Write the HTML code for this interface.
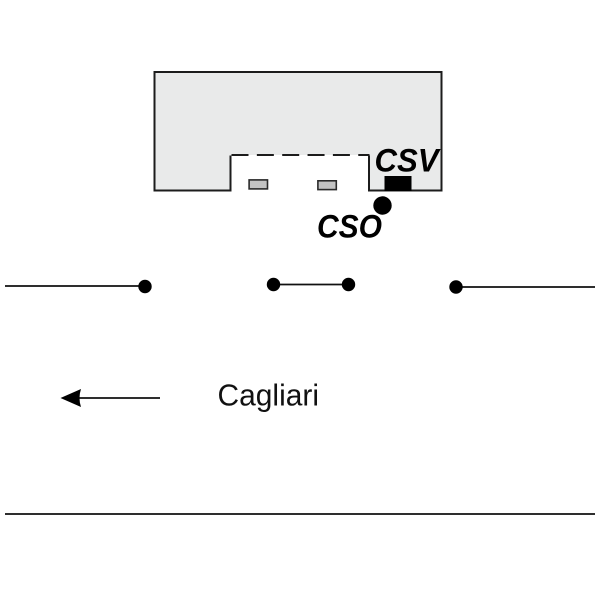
<!DOCTYPE html>
<html>
<head>
<meta charset="utf-8">
<style>
html,body{margin:0;padding:0;background:#fff;}
svg{display:block;}
</style>
</head>
<body>
<svg width="600" height="600" viewBox="0 0 600 600" xmlns="http://www.w3.org/2000/svg">
<rect width="600" height="600" fill="#fff"/>
<path d="M154.500 190.500 V72 H441.500 V190.500 H369 V155 H230.500 V190.500 Z" fill="#e9eaea" stroke="none"/>
<rect x="231" y="155.500" width="138" height="36" fill="#fff"/>
<path d="M230.500 155.500 V190.500 H154.500 V72 H441.500 V190.500 H369 V155.500" fill="none" stroke="#1c1c1c" stroke-width="2"/>
<path d="M231.500 155 H369.500" fill="none" stroke="#1c1c1c" stroke-width="2" stroke-dasharray="17 8.350"/>
<rect x="249.100" y="179.900" width="18.400" height="9" fill="#c3c3c3" stroke="#2a2a2a" stroke-width="1.600"/>
<rect x="317.900" y="180.800" width="18.400" height="8.800" fill="#c3c3c3" stroke="#2a2a2a" stroke-width="1.600"/>
<rect x="384.500" y="176" width="27" height="15" fill="#000"/>
<circle cx="382.500" cy="205.500" r="9.200" fill="#000"/>
<text x="374.500" y="171.500" textLength="64" lengthAdjust="spacingAndGlyphs" font-family="'Liberation Sans',sans-serif" font-size="32" font-weight="bold" font-style="italic" fill="#000">CSV</text>
<text x="317" y="237.500" textLength="65" lengthAdjust="spacingAndGlyphs" font-family="'Liberation Sans',sans-serif" font-size="32" font-weight="bold" font-style="italic" fill="#000">CSO</text>
<line x1="5" y1="286" x2="145" y2="286" stroke="#111" stroke-width="1.700"/>
<circle cx="145" cy="286.500" r="6.700" fill="#000"/>
<line x1="273.500" y1="284.500" x2="348.500" y2="284.500" stroke="#111" stroke-width="1.700"/>
<circle cx="273.500" cy="284.500" r="6.700" fill="#000"/>
<circle cx="348.500" cy="284.500" r="6.700" fill="#000"/>
<line x1="456" y1="287" x2="595" y2="287" stroke="#111" stroke-width="1.700"/>
<circle cx="456" cy="287" r="6.700" fill="#000"/>
<line x1="76" y1="398" x2="160" y2="398" stroke="#111" stroke-width="1.700"/>
<path d="M60.500 398 L81 389 Q78 398 81 407 Z" fill="#000"/>
<text x="217.500" y="405.500" font-family="'Liberation Sans',sans-serif" font-size="31" textLength="101.500" lengthAdjust="spacingAndGlyphs" fill="#111">Cagliari</text>
<line x1="5" y1="514" x2="595" y2="514" stroke="#111" stroke-width="1.700"/>
</svg>
</body>
</html>
